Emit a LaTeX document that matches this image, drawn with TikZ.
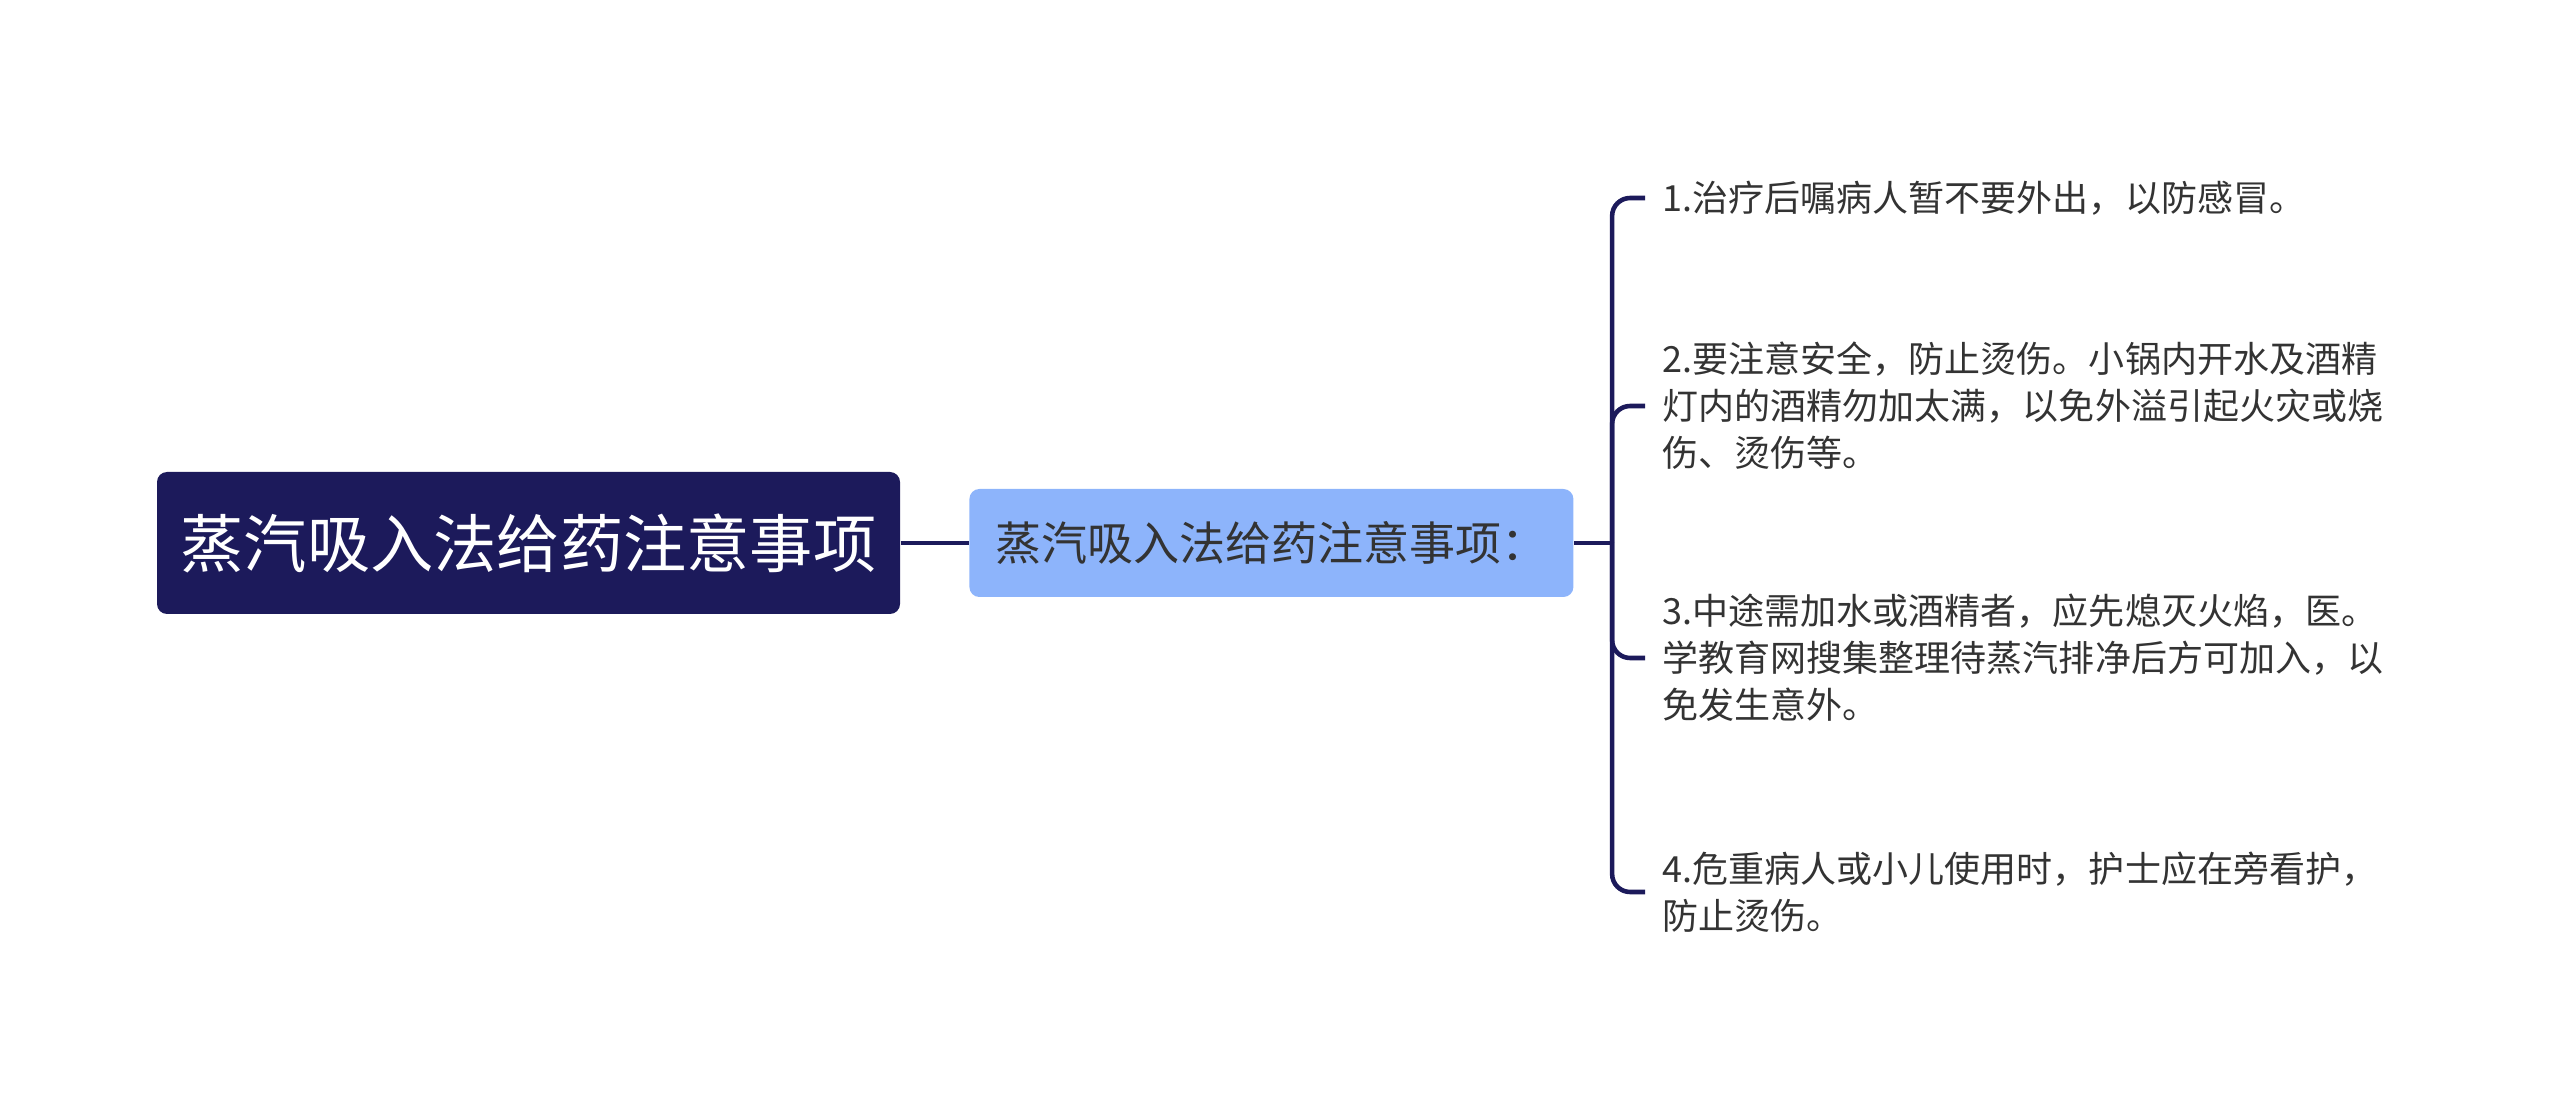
\documentclass[tikz,border=0pt]{standalone}
\usepackage{fontspec}
\setmainfont{Noto Sans CJK SC}
\usetikzlibrary{positioning}
\definecolor{navy}{HTML}{1C1A5B}
\definecolor{skyblue}{HTML}{8DB4FB}
\definecolor{leafgray}{HTML}{333333}

\begin{document}
\begin{tikzpicture}[% styles shared by the whole map
		every node/.style={
			align=left,		% lines are broken by hand with "\\"
			inner sep=0pt
		},
		rootbox/.style={rectangle,rounded corners=0.1cm,fill=navy,text=white,
			minimum width=7.43cm,minimum height=1.42cm,align=center,
			font=\fontsize{18pt}{22pt}\selectfont},
		midbox/.style={rectangle,rounded corners=0.1cm,fill=skyblue,text=leafgray,
			minimum width=6.04cm,minimum height=1.08cm,align=center,
			font=\fontsize{13.1pt}{16pt}\selectfont},
		leaf/.style={anchor=west,inner xsep=0.17cm,text=leafgray,
			font=\fontsize{10.25pt}{13.4pt}\selectfont},
		link/.style={draw=navy,line width=1.3pt,rounded corners=0.18cm}
	]
	\useasboundingbox (0,0) rectangle (25.6,-11.09);
	\node[rootbox](R1) at (5.285,-5.43){蒸汽吸入法给药注意事项};
	\node[midbox](R2)[right=0.68cm of R1]{蒸汽吸入法给药注意事项：};
	\coordinate (J) at ([xshift=0.38cm]R2.east);
	\node[leaf](L1) at (16.45,-1.98){1.治疗后嘱病人暂不要外出，以防感冒。};
	\node[leaf](L2) at (16.45,-4.06){2.要注意安全，防止烫伤。小锅内开水及酒精\\灯内的酒精勿加太满，以免外溢引起火灾或烧\\伤、烫伤等。};
	\node[leaf](L3) at (16.45,-6.58){3.中途需加水或酒精者，应先熄灭火焰，医。\\学教育网搜集整理待蒸汽排净后方可加入，以\\免发生意外。};
	\node[leaf](L4) at (16.45,-8.92){4.危重病人或小儿使用时，护士应在旁看护，\\防止烫伤。};
	\draw[link] (R1) -- (R2);
	\draw[link] (R2) -- (J);
	\foreach \leafname in {L1,L2,L3,L4}
		\draw[link] (J) |- (\leafname.west);
\end{tikzpicture}
\end{document}
